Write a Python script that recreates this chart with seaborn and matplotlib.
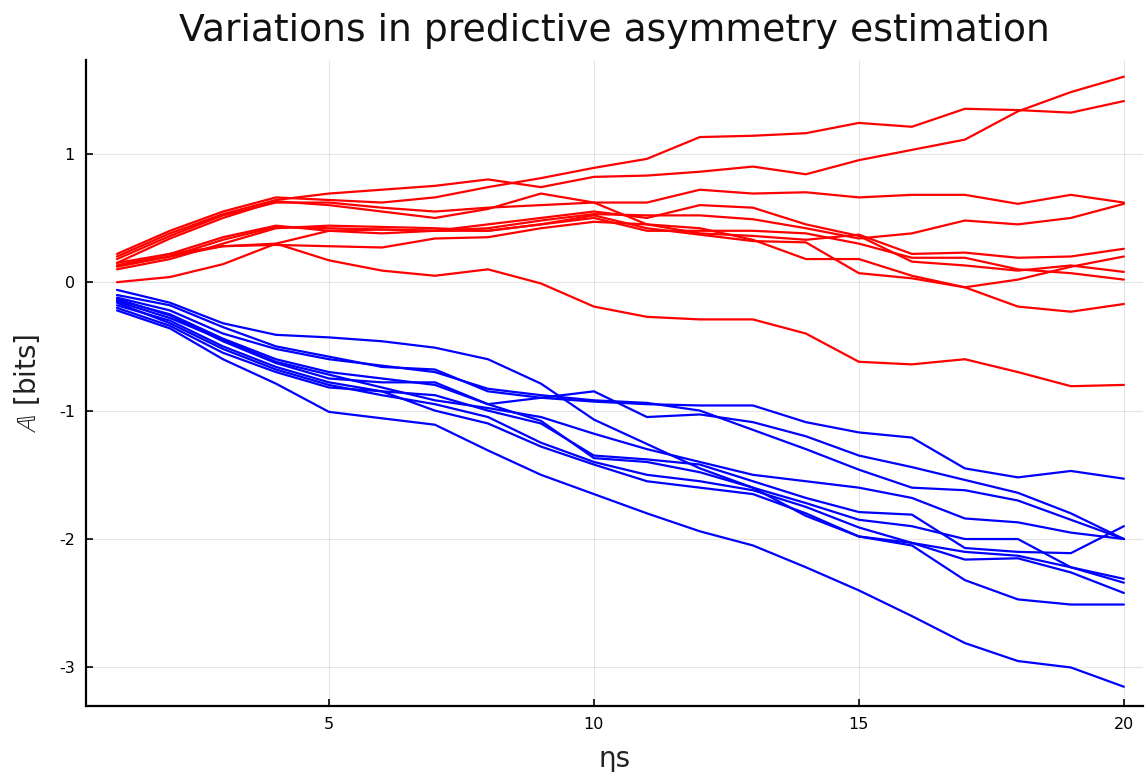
import numpy as np
import pandas as pd
import matplotlib
matplotlib.use("Agg")
import matplotlib.pyplot as plt
import seaborn as sns

# Embedding size ηs
eta_s = list(range(1, 21))

# Predictive asymmetry for the forward (causal) direction, one list per run
red_runs = [
    [0.22, 0.40, 0.55, 0.66, 0.64, 0.62, 0.66, 0.74, 0.81, 0.89, 0.96, 1.13, 1.14, 1.16, 1.24, 1.21, 1.35, 1.34, 1.32, 1.41],
    [0.20, 0.38, 0.53, 0.64, 0.69, 0.72, 0.75, 0.80, 0.74, 0.82, 0.83, 0.86, 0.90, 0.84, 0.95, 1.03, 1.11, 1.33, 1.48, 1.60],
    [0.18, 0.36, 0.52, 0.62, 0.62, 0.58, 0.55, 0.58, 0.60, 0.62, 0.62, 0.72, 0.69, 0.70, 0.66, 0.68, 0.68, 0.61, 0.68, 0.62],
    [0.15, 0.34, 0.50, 0.63, 0.60, 0.55, 0.50, 0.57, 0.69, 0.62, 0.45, 0.38, 0.36, 0.33, 0.37, 0.22, 0.23, 0.19, 0.20, 0.26],
    [0.12, 0.20, 0.33, 0.43, 0.42, 0.41, 0.40, 0.42, 0.48, 0.53, 0.52, 0.52, 0.49, 0.42, 0.34, 0.38, 0.48, 0.45, 0.50, 0.61],
    [0.13, 0.22, 0.35, 0.44, 0.40, 0.38, 0.40, 0.45, 0.50, 0.55, 0.50, 0.60, 0.58, 0.45, 0.36, 0.16, 0.13, 0.09, 0.13, 0.08],
    [0.10, 0.18, 0.30, 0.42, 0.44, 0.43, 0.42, 0.40, 0.45, 0.50, 0.40, 0.40, 0.40, 0.38, 0.30, 0.19, 0.19, 0.10, 0.07, 0.02],
    [0.15, 0.22, 0.28, 0.29, 0.28, 0.27, 0.34, 0.35, 0.42, 0.47, 0.45, 0.42, 0.33, 0.18, 0.18, 0.05, -0.04, 0.02, 0.12, 0.20],
    [0.00, 0.04, 0.14, 0.30, 0.40, 0.41, 0.40, 0.40, 0.45, 0.52, 0.42, 0.37, 0.32, 0.31, 0.07, 0.03, -0.04, -0.19, -0.23, -0.17],
    [0.13, 0.20, 0.28, 0.30, 0.17, 0.09, 0.05, 0.10, -0.01, -0.19, -0.27, -0.29, -0.29, -0.40, -0.62, -0.64, -0.60, -0.70, -0.81, -0.80],
]

# Predictive asymmetry for the reverse direction, one list per run
blue_runs = [
    [-0.22, -0.36, -0.60, -0.79, -1.01, -1.06, -1.11, -1.31, -1.50, -1.65, -1.80, -1.94, -2.05, -2.22, -2.40, -2.60, -2.81, -2.95, -3.00, -3.15],
    [-0.10, -0.18, -0.35, -0.50, -0.58, -0.66, -0.68, -0.85, -0.90, -0.93, -0.95, -0.96, -0.96, -1.09, -1.17, -1.21, -1.45, -1.52, -1.47, -1.53],
    [-0.14, -0.25, -0.44, -0.60, -0.70, -0.75, -0.80, -0.95, -0.90, -0.85, -1.05, -1.03, -1.09, -1.20, -1.35, -1.44, -1.54, -1.64, -1.80, -2.00],
    [-0.06, -0.16, -0.32, -0.41, -0.43, -0.46, -0.51, -0.60, -0.79, -1.07, -1.26, -1.45, -1.60, -1.72, -1.85, -1.90, -2.00, -2.00, -2.22, -2.31],
    [-0.12, -0.22, -0.40, -0.52, -0.60, -0.65, -0.70, -0.83, -0.88, -0.92, -0.94, -1.00, -1.15, -1.30, -1.46, -1.60, -1.62, -1.70, -1.85, -2.00],
    [-0.15, -0.28, -0.45, -0.62, -0.72, -0.82, -0.92, -0.98, -1.05, -1.18, -1.30, -1.40, -1.50, -1.55, -1.60, -1.68, -1.84, -1.87, -1.95, -2.00],
    [-0.18, -0.30, -0.50, -0.66, -0.78, -0.85, -0.88, -1.00, -1.10, -1.35, -1.38, -1.42, -1.55, -1.68, -1.79, -1.81, -2.07, -2.10, -2.11, -1.90],
    [-0.16, -0.32, -0.52, -0.68, -0.80, -0.88, -0.95, -1.05, -1.25, -1.40, -1.50, -1.55, -1.62, -1.75, -1.91, -2.03, -2.10, -2.13, -2.22, -2.34],
    [-0.20, -0.34, -0.55, -0.70, -0.82, -0.85, -1.00, -1.10, -1.28, -1.42, -1.55, -1.60, -1.65, -1.80, -1.98, -2.03, -2.16, -2.15, -2.26, -2.42],
    [-0.13, -0.26, -0.46, -0.63, -0.75, -0.78, -0.78, -0.95, -1.08, -1.37, -1.40, -1.48, -1.60, -1.82, -1.98, -2.05, -2.32, -2.47, -2.51, -2.51],
]

x_ticks = [5, 10, 15, 20]
y_ticks = [-3, -2, -1, 0, 1]
y_tick_labels = ["-3", "-2", "-1", "0", "1"]

rows = []
for group, runs in (("forward", red_runs), ("reverse", blue_runs)):
    for i, run in enumerate(runs):
        for x, v in zip(eta_s, run):
            rows.append({"eta_s": x, "A": v, "run": f"{group}{i}", "group": group})
df = pd.DataFrame(rows)

sns.set_theme(style="white")
plt.rcParams["font.family"] = ["DejaVu Sans"]
plt.rcParams["mathtext.fontset"] = "dejavusans"
plt.rcParams["text.color"] = "black"
plt.rcParams["axes.labelcolor"] = "#222222"

fig = plt.figure(figsize=(11.48, 7.72), dpi=100)
ax = fig.add_axes([0.0749, 0.0855, 0.9207, 0.8368])

sns.lineplot(
    data=df, x="eta_s", y="A", hue="group", units="run", estimator=None,
    palette={"forward": "#ff0000", "reverse": "#0000ff"},
    linewidth=1.6, legend=False, ax=ax, sort=False,
)

ax.set_xlim(0.415, 20.36)
ax.set_ylim(-3.30, 1.73)
ax.set_xticks(x_ticks)
ax.set_xticklabels([str(t) for t in x_ticks])
ax.set_yticks(y_ticks)
ax.set_yticklabels(y_tick_labels)

ax.grid(True, color="#000000", alpha=0.1, linewidth=0.8)
ax.set_axisbelow(True)
for side in ("top", "right"):
    ax.spines[side].set_visible(False)
for side in ("left", "bottom"):
    ax.spines[side].set_color("black")
    ax.spines[side].set_linewidth(1.6)

ax.tick_params(axis="both", direction="in", length=5, width=1.2, colors="black",
               labelsize=11.5, pad=8, left=True, bottom=True)

ax.set_title("Variations in predictive asymmetry estimation", fontsize=27.2,
             color="#111111", pad=14)
ax.set_xlabel("ηs", fontsize=20, labelpad=9)
ax.set_ylabel(r"$\mathbb{A}$ [bits]", fontsize=20, labelpad=12)

fig.savefig("out.png", dpi=100)
